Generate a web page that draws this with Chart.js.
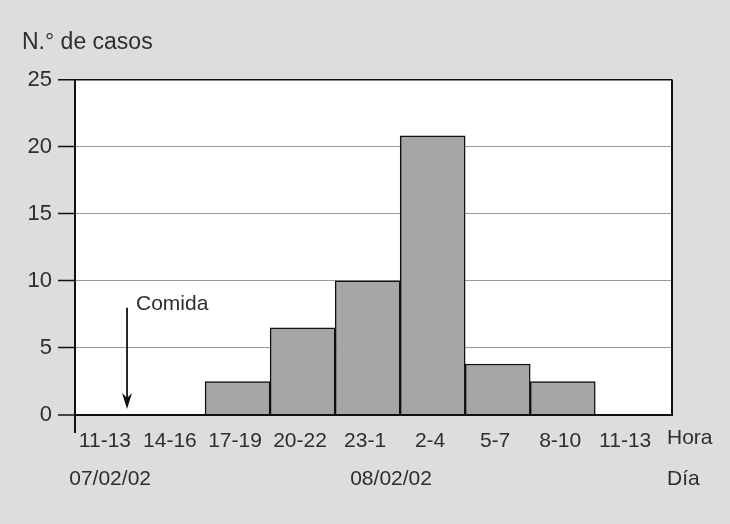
<!DOCTYPE html>
<html>
<head>
<meta charset="utf-8">
<script src="https://cdn.jsdelivr.net/npm/chart.js@4/dist/chart.umd.min.js"></script>
<style>
  html, body { margin: 0; padding: 0; background: #dddddd; }
  #wrap { width: 730px; height: 524px; }
</style>
</head>
<body>
<div id="wrap"><canvas id="c" width="730" height="524"></canvas></div>
<script>
// ---- data ----
const hourLabels = ['11-13', '14-16', '17-19', '20-22', '23-1', '2-4', '5-7', '8-10', '11-13'];
const cases = [0, 0, 2.5, 6.5, 10, 20.8, 3.8, 2.5, 0];
const yTicks = [0, 5, 10, 15, 20, 25];
const dayLabels = ['07/02/02', '08/02/02'];
const dayPositions = [0.54, 4.86];   // x positions (in category units) of the date labels
const yTitle = 'N.° de casos';
const hourAxisName = 'Hora';
const dayAxisName = 'Día';
const mealLabel = 'Comida';
const mealX = 0.8;          // time of the meal, in category units
const mealArrowFrom = 8.0;  // arrow start (cases)
const mealArrowTo = 0.45;   // arrow tip (cases)

const FONT = '"Liberation Sans", Arial, sans-serif';
const TXT = '#2e2e2e';
const FS = 21;

const points = cases.map((v, i) => ({ x: i + 0.5, y: v }));

const decor = {
  id: 'decor',
  beforeDraw(chart) {
    const { ctx, chartArea: a } = chart;
    ctx.save();
    ctx.fillStyle = '#dddddd';
    ctx.fillRect(0, 0, chart.width, chart.height);
    ctx.fillStyle = '#ffffff';
    ctx.fillRect(a.left, a.top, a.right - a.left, a.bottom - a.top);
    ctx.restore();
  },
  afterDraw(chart) {
    const { ctx, chartArea: a, scales } = chart;
    const xs = scales.x, ys = scales.y;
    ctx.save();
    // right frame
    ctx.strokeStyle = '#111';
    ctx.lineWidth = 2;
    ctx.beginPath();
    ctx.moveTo(a.right, ys.getPixelForValue(25));
    ctx.lineTo(a.right, ys.getPixelForValue(0));
    ctx.stroke();
    // y-axis extension below zero
    ctx.beginPath();
    ctx.moveTo(a.left, a.bottom);
    ctx.lineTo(a.left, a.bottom + 18);
    ctx.stroke();
    // meal arrow
    const ax = xs.getPixelForValue(mealX);
    const y1 = ys.getPixelForValue(mealArrowFrom);
    const y2 = ys.getPixelForValue(mealArrowTo);
    ctx.lineWidth = 1.8;
    ctx.beginPath();
    ctx.moveTo(ax, y1);
    ctx.lineTo(ax, y2 - 10);
    ctx.stroke();
    ctx.fillStyle = '#111';
    ctx.beginPath();
    ctx.moveTo(ax - 5, y2 - 16);
    ctx.lineTo(ax, y2 - 11);
    ctx.lineTo(ax + 5, y2 - 16);
    ctx.lineTo(ax, y2);
    ctx.closePath();
    ctx.fill();
    // meal label
    ctx.fillStyle = TXT;
    ctx.font = FS + 'px ' + FONT;
    ctx.textAlign = 'left';
    ctx.textBaseline = 'middle';
    ctx.fillText(mealLabel, ax + 9, ys.getPixelForValue(mealArrowFrom) - 3);
    // axis names
    const lblY = a.bottom + 23;
    const dayY = a.bottom + 64;
    ctx.fillText(hourAxisName, a.right - 5, lblY);
    ctx.fillText(dayAxisName, a.right - 5, dayY);
    // day labels
    ctx.textAlign = 'center';
    dayLabels.forEach((d, i) => ctx.fillText(d, xs.getPixelForValue(dayPositions[i]), dayY));
    ctx.restore();
  }
};

new Chart(document.getElementById('c'), {
  type: 'bar',
  data: {
    datasets: [{
      data: points,
      backgroundColor: '#a6a6a9',
      borderColor: '#111111',
      borderWidth: 1.5,
      borderSkipped: 'bottom',
      barPercentage: 1,
      categoryPercentage: 1
    }]
  },
  options: {
    responsive: false,
    animation: false,
    layout: { padding: { left: 22, right: 58, top: 0, bottom: 0 } },
    plugins: {
      legend: { display: false },
      tooltip: { enabled: false },
      title: {
        display: true,
        text: yTitle,
        align: 'start',
        color: TXT,
        font: { family: FONT, size: 23, weight: 'normal' },
        padding: { top: 29, bottom: 23 }
      }
    },
    scales: {
      x: {
        type: 'linear',
        offset: false,
        min: 0,
        max: 9.18,
        grid: { display: false, offset: false },
        border: { display: true, color: '#111', width: 2 },
        afterBuildTicks(s) { s.ticks = hourLabels.map((_, i) => ({ value: i + 0.46 })); },
        afterFit(s) { s.height = 109; },
        ticks: {
          autoSkip: false,
          maxRotation: 0,
          padding: 6,
          color: TXT,
          font: { family: FONT, size: FS },
          callback: (v, i) => hourLabels[i]
        }
      },
      y: {
        min: 0,
        max: 25,
        afterBuildTicks(s) { s.ticks = yTicks.map(v => ({ value: v })); },
        afterFit(s) { s.width = 53; },
        border: { display: true, color: '#111', width: 2 },
        grid: {
          color: c => (c.tick.value === 0 || c.tick.value === 25) ? '#111' : '#9a9a9a',
          lineWidth: c => c.tick.value === 0 ? 2 : (c.tick.value === 25 ? 1.5 : 1),
          tickColor: '#111',
          tickWidth: 1.5,
          tickLength: 17,
          drawTicks: true
        },
        ticks: {
          padding: 6,
          color: TXT,
          font: { family: FONT, size: 22 }
        }
      }
    }
  },
  plugins: [decor]
});
</script>
</body>
</html>
